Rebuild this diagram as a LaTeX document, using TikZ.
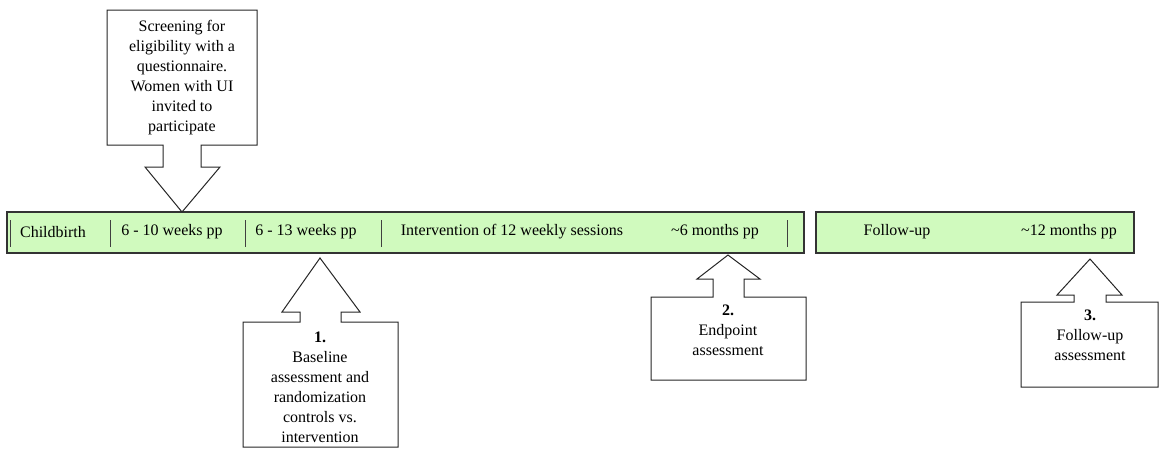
\documentclass[tikz,border=0pt]{standalone}
\usepackage{fontspec}
\setmainfont{Liberation Serif}
\usetikzlibrary{calc}
\definecolor{barGreen}{RGB}{208,250,190}
\tikzset{%
  bar/.style={draw=black!80, line width=1.1pt, fill=barGreen},
  tick/.style={draw=black!75, line width=1pt},
  callout/.style={draw=black!85, line width=1pt, fill=white},
  label/.style={inner sep=0pt, font=\fontsize{16}{20}\selectfont},
  box text/.style={inner sep=0pt, align=center, font=\fontsize{16}{20}\selectfont},
}

\begin{document}
\begin{tikzpicture}[x=1pt, y=-1pt]
    \useasboundingbox (0,0) rectangle (1162,448);

    %time line bars
    \draw[bar] (7,212) rectangle (804,253);
    \draw[bar] (816,212) rectangle (1134,253);

    %dividers
    \foreach \x in {10,110,245,381,787}
        \draw[tick] (\x,220) -- (\x,247);

    \node[label] (birth) at (53,232) {Childbirth};
    \node[label] (wk10) at (172,232) {6 - 10 weeks pp};
    \node[label] (wk13) at (306,232) {6 - 13 weeks pp};
    \node[label] (interv) at (512,232) {Intervention of 12 weekly sessions};
    \node[label] (mon6) at (715,232) {\textasciitilde6 months pp};
    \node[label] (fup) at (897,232) {Follow-up};
    \node[label] (mon12) at (1069,232) {\textasciitilde12 months pp};

    % screening callout, pointing down
    \coordinate (S) at (182,212);
    \draw[callout] (107,10) -- (257,10) -- (257,145) -- (201,145) -- (201,167)
        -- (220,167) -- (S) -- (145,167) -- (163,167) -- (163,145) -- (107,145) -- cycle;
    \node[box text] (screen) at (182,78) {Screening for\\eligibility with a\\questionnaire.\\Women with UI\\invited to\\participate};

    % assessment callouts, pointing up
    \coordinate (A1) at (320,258);
    \draw[callout] (A1) -- (360,312) -- (341,312) -- (341,322) -- (398,322) -- (398,447)
        -- (243,447) -- (243,322) -- (300,322) -- (300,312) -- (282,312) -- cycle;
    \node[box text] (base) at (320,387) {\textbf{1.}\\Baseline\\assessment and\\randomization\\controls vs.\\intervention};

    \coordinate (A2) at (728,255);
    \draw[callout] (A2) -- (760,279) -- (744,279) -- (744,297) -- (806,297) -- (806,380)
        -- (651,380) -- (651,297) -- (713,297) -- (713,279) -- (697,279) -- cycle;
    \node[box text] (endp) at (728,330) {\textbf{2.}\\Endpoint\\assessment};

    \coordinate (A3) at (1090,259);
    \draw[callout] (A3) -- (1122,295) -- (1106,295) -- (1106,302) -- (1158,302) -- (1158,387)
        -- (1021,387) -- (1021,302) -- (1074,302) -- (1074,295) -- (1057,295) -- cycle;
    \node[box text] (fupass) at (1090,335) {\textbf{3.}\\Follow-up\\assessment};

\end{tikzpicture}
\end{document}
